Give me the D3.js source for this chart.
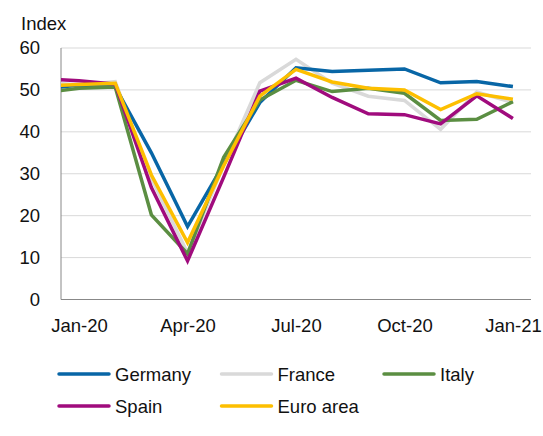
<!DOCTYPE html>
<html>
<head>
<meta charset="utf-8">
<script src="https://cdn.jsdelivr.net/npm/d3@7"></script>
<style>
  body { margin: 0; background: #fff; }
  svg { display: block; font-family: "Liberation Sans", Arial, sans-serif; }
</style>
</head>
<body>
<script>
"use strict";
// months, Dec-19 sits left of the axis and is clipped off
var months = ["Dec-19", "Jan-20", "Feb-20", "Mar-20", "Apr-20", "May-20", "Jun-20",
              "Jul-20", "Aug-20", "Sep-20", "Oct-20", "Nov-20", "Dec-20", "Jan-21"];
var tickMonths = ["Jan-20", "Apr-20", "Jul-20", "Oct-20", "Jan-21"];
var yTicks = [0, 10, 20, 30, 40, 50, 60];

var germany = [50.2, 51.2, 50.7, 35.0, 17.4, 32.3, 47.0, 55.3, 54.4, 54.7, 55.0, 51.7, 52.0, 50.8];
var france  = [52.0, 51.1, 52.0, 28.9, 11.1, 32.1, 51.7, 57.3, 51.6, 48.5, 47.5, 40.6, 49.5, 47.0];
var italy   = [49.3, 50.4, 50.7, 20.2, 10.9, 33.9, 47.6, 52.3, 49.6, 50.4, 49.2, 42.7, 43.0, 47.2];
var spain   = [52.7, 52.2, 51.4, 26.7, 9.2, 29.2, 49.7, 52.8, 48.2, 44.3, 44.1, 41.9, 48.6, 43.2];
var euro    = [50.9, 51.3, 51.6, 29.7, 13.6, 31.9, 48.5, 54.9, 51.9, 50.4, 50.0, 45.3, 49.1, 47.8];

var series = [
  {name: "Germany",   values: germany, color: "#0866a6", draw: 1, col: 0, row: 0},
  {name: "France",    values: france,  color: "#d9d9d9", draw: 0, col: 1, row: 0},
  {name: "Italy",     values: italy,   color: "#5b8e42", draw: 2, col: 2, row: 0},
  {name: "Spain",     values: spain,   color: "#a00b7d", draw: 3, col: 0, row: 1},
  {name: "Euro area", values: euro,    color: "#fdbf00", draw: 4, col: 1, row: 1}
];

var width = 543, height = 436;
var plotLeft = 61, plotRight = 531, plotTop = 48, plotBottom = 299.5;

var svg = d3.select("body").append("svg")
  .attr("width", width).attr("height", height);

var x = d3.scaleLinear().domain([-0.5, 12.5]).range([plotLeft, plotRight]);
var y = d3.scaleLinear().domain([0, 60]).range([plotBottom, plotTop]);

// gridlines
svg.append("g").selectAll("line").data(yTicks.slice(1)).enter().append("line")
  .attr("x1", plotLeft).attr("x2", plotRight)
  .attr("y1", function(d) { return y(d); }).attr("y2", function(d) { return y(d); })
  .attr("stroke", "#d9d9d9").attr("stroke-width", 1);

// y axis
var yAxis = svg.append("g").attr("transform", "translate(" + plotLeft + ",0)")
  .call(d3.axisLeft(y).tickValues(yTicks).tickSize(0).tickPadding(21));
yAxis.select(".domain").remove();
yAxis.selectAll("text").attr("font-size", 18.5).attr("fill", "#111")
  .attr("font-family", "Liberation Sans, Arial, sans-serif");

// x axis
var xAxis = svg.append("g").attr("transform", "translate(0," + plotBottom + ")")
  .call(d3.axisBottom(x).tickValues([0, 3, 6, 9, 12])
    .tickFormat(function(d, i) { return tickMonths[i]; }).tickSize(0).tickPadding(19));
xAxis.select(".domain").remove();
xAxis.selectAll("text").attr("font-size", 18.5).attr("fill", "#111")
  .attr("font-family", "Liberation Sans, Arial, sans-serif");

// axis lines
svg.append("line").attr("x1", plotLeft).attr("x2", plotLeft).attr("y1", plotTop).attr("y2", plotBottom)
  .attr("stroke", "#888").attr("stroke-width", 1);
svg.append("line").attr("x1", plotLeft).attr("x2", plotRight).attr("y1", plotBottom).attr("y2", plotBottom)
  .attr("stroke", "#888").attr("stroke-width", 1);

svg.append("text").attr("x", 21).attr("y", 30)
  .attr("font-size", 18.5).attr("fill", "#111").text("Index");

// lines
svg.append("clipPath").attr("id", "plot").append("rect")
  .attr("x", plotLeft).attr("y", 0).attr("width", plotRight - plotLeft).attr("height", height);

var line = d3.line()
  .x(function(d, i) { return x(i - 1); })
  .y(function(d) { return y(d); });

var ordered = series.slice().sort(function(a, b) { return a.draw - b.draw; });
svg.append("g").attr("clip-path", "url(#plot)")
  .selectAll("path").data(ordered).enter().append("path")
  .attr("d", function(d) { return line(d.values); })
  .attr("fill", "none")
  .attr("stroke", function(d) { return d.color; })
  .attr("stroke-width", 3.5);

// legend
var legend = svg.append("g").selectAll("g").data(series).enter().append("g")
  .attr("transform", function(d) {
    return "translate(" + (58 + d.col * 162.5) + "," + (374 + d.row * 32) + ")";
  });
legend.append("line").attr("x1", 1).attr("x2", 51)
  .attr("stroke", function(d) { return d.color; })
  .attr("stroke-width", 3.5).attr("stroke-linecap", "round");
legend.append("text").attr("x", 57).attr("y", 7)
  .attr("font-size", 18.5).attr("fill", "#111")
  .text(function(d) { return d.name; });
</script>
</body>
</html>
